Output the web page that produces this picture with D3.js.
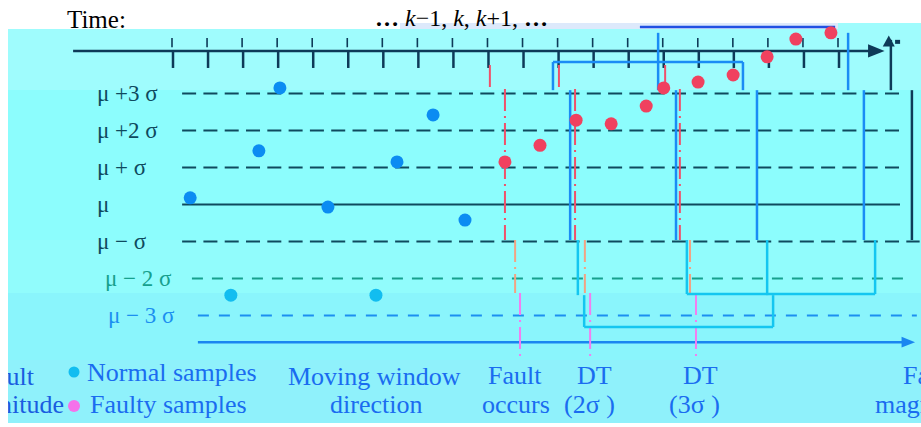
<!DOCTYPE html>
<html>
<head>
<meta charset="utf-8">
<script src="https://cdn.jsdelivr.net/npm/d3@7"></script>
<style>
body { margin: 0; background: #fff; }
svg { display: block; }
text { font-family: "Liberation Serif", "Times New Roman", serif; }
</style>
</head>
<body>
<div id="chart"></div>
<script>
// sample index of each tick on the time axis
const tickTimes = d3.range(0, 20)

// control levels, in units of sigma
const levels = [3, 2, 1, 0, -1, -2, -3]
const levelLabels = ["μ +3 σ", "μ +2 σ", "μ + σ", "μ", "μ − σ", "μ − 2 σ", "μ − 3 σ"]

// normal samples (time, value in sigma)
const normalTimes = [0.49, 1.65, 2.45, 3.05, 4.42, 5.79, 6.39, 7.42, 8.33]
const normalValues = [0.18, -2.45, 1.45, 3.15, -0.07, -2.45, 1.15, 2.42, -0.42]

// faulty samples
const faultyTimes = [9.47, 10.47, 11.5, 12.5, 13.5, 14.0, 14.98, 15.98, 16.95, 17.77, 18.77]
const faultyValues = [1.15, 1.6, 2.28, 2.18, 2.66, 3.15, 3.31, 3.5, 3.99, 4.47, 4.64]

// fault occurs / detection (2 sigma) / detection (3 sigma), one time per picture strip
const eventTimes = [
    [9.04, 9.47, 9.76, 9.90],
    [11.01, 11.47, 11.75, 11.90],
    [14.04, 14.46, 14.75, 14.92]
]

// moving windows: left/right edge in each strip, top and bottom level
const windowEdges = [
    [[10.84, 16.26], [11.33, 16.66], [11.55, 16.95], [11.73, 17.12]],
    [[13.84, 19.26], [14.35, 19.71], [14.66, 20.03]]
]
const windowTopSpan = [[10.84, 16.26], [13.32, 18.89]]
const windowTop = [3.85, 4.80]
const windowBottom = [-3.31, -2.42]

var width = 921
var height = 427

var svg = d3.select("#chart")
    .append("svg")
    .attr("width", width)
    .attr("height", height)

// the picture is cut in horizontal strips (pixel rows) with slightly different shades
var stripRows = [29, 90, 240, 293, 360, 423]
var stripFill = ["#9ffcfd", "#8cfdfd", "#91fcfc", "#8af5fc", "#8ff1fb"]
var defs = svg.append("defs")
defs.append("clipPath").attr("id", "cyan")
    .append("rect").attr("x", 8).attr("y", 23).attr("width", width - 8).attr("height", 400)

for (let i = 0; i < stripFill.length; i++) {
    svg.append("rect")
        .attr("x", 8).attr("y", stripRows[i])
        .attr("width", width - 8).attr("height", stripRows[i + 1] - stripRows[i])
        .attr("fill", stripFill[i])
}
svg.append("rect").attr("x", 838).attr("y", 23).attr("width", 83).attr("height", 7).attr("fill", "#9ffcfd")
svg.append("rect").attr("x", 400).attr("y", 23).attr("width", 438).attr("height", 6).attr("fill", "#dde9fb")

var x = d3.scaleLinear().domain([0, 19]).range([173, 839])
var y = d3.scaleLinear().domain([-3, 3]).range([315.5, 93.5])

var g = svg.append("g").attr("clip-path", "url(#cyan)")

function arrowHead(px, py, dir, size, color) {
    // dir: "right" or "up"
    var pts = dir == "right"
        ? [[px, py], [px - size * 1.5, py - size * 0.6], [px - size * 1.5, py + size * 0.6]]
        : [[px, py], [px - size * 0.6, py + size * 1.1], [px + size * 0.6, py + size * 1.1]]
    g.append("path").attr("d", "M" + pts.join("L") + "Z").attr("fill", color)
}

// ---- time axis ----
var navy = "#0e3a58"
g.append("line")
    .attr("x1", x(-2.85)).attr("x2", x(20.1))
    .attr("y1", y(4.15)).attr("y2", y(4.15))
    .attr("stroke", navy).attr("stroke-width", 2.5)
arrowHead(x(20.3), y(4.15), "right", 11, navy)

g.selectAll(".tickBig")
    .data(tickTimes)
    .enter()
    .append("line")
    .attr("x1", d => x(d)).attr("x2", d => x(d))
    .attr("y1", y(4.15)).attr("y2", y(3.69))
    .attr("stroke", navy).attr("stroke-width", 2.5)

g.selectAll(".tickSmall")
    .data(tickTimes)
    .enter()
    .append("line")
    .attr("x1", d => x(d) - 1).attr("x2", d => x(d) - 1)
    .attr("y1", y(4.5)).attr("y2", y(4.25))
    .attr("stroke", navy).attr("stroke-width", 1.6)

// vertical (magnitude) arrow on the right
g.append("line")
    .attr("x1", x(20.48)).attr("x2", x(20.48))
    .attr("y1", y(4.45)).attr("y2", y(3.09))
    .attr("stroke", navy).attr("stroke-width", 2.5)
arrowHead(x(20.42), y(4.57), "up", 10, navy)
g.append("rect").attr("x", x(20.6)).attr("y", y(4.45)).attr("width", 5).attr("height", 4).attr("fill", navy)
g.append("line")
    .attr("x1", x(21.08)).attr("x2", x(21.08))
    .attr("y1", y(3.09)).attr("y2", y(-0.96))
    .attr("stroke", navy).attr("stroke-width", 2.5)

// ---- sigma level lines ----
var levelColor = ["#0f4a5e", "#0f4a5e", "#0f4a5e", "#0f4a5e", "#0f4a5e", "#17a08d", "#1c8ff0"]
var levelStart = [0.26, 0.26, 0.26, 0.26, 0.26, 0.54, 0.71]
var levelEnd = [20.74, 20.74, 20.74, 20.74, 21.3, 21.03, 21.22]
var levelDash = ["14,7.3", "14,7.3", "14,7.3", null, "14,7.3", "11,9", "11,10"]
var labelX = [97, 97, 97, 97, 97, 105, 108]

g.selectAll(".level")
    .data(levels)
    .enter()
    .append("line")
    .attr("x1", (d, i) => x(levelStart[i])).attr("x2", (d, i) => x(levelEnd[i]))
    .attr("y1", d => y(d)).attr("y2", d => y(d))
    .attr("stroke", (d, i) => levelColor[i])
    .attr("stroke-width", 2)
    .attr("stroke-dasharray", (d, i) => levelDash[i])

g.selectAll(".levelLabel")
    .data(levels)
    .enter()
    .append("text")
    .attr("x", (d, i) => labelX[i])
    .attr("y", d => y(d) + 7)
    .attr("fill", (d, i) => levelColor[i])
    .style("font-size", "23px")
    .text((d, i) => levelLabels[i])

// bottom arrow: moving window direction
var blue = "#1a86f0"
g.append("line")
    .attr("x1", x(0.71)).attr("x2", x(20.9))
    .attr("y1", y(-3.72)).attr("y2", y(-3.72))
    .attr("stroke", blue).attr("stroke-width", 2.5)
arrowHead(x(21.17), y(-3.72), "right", 9, blue)

// ---- event lines (dash-dot) ----
var stripLevels = [3.77, 3.12, -0.96, -2.39, -4.2]
var eventColor = ["#f0506a", "#f0506a", "#f2a383", "#f27ef0"]
eventTimes.forEach(function(times) {
    for (let s = 0; s < times.length; s++) {
        g.append("line")
            .attr("x1", x(times[s])).attr("x2", x(times[s]))
            .attr("y1", y(stripLevels[s])).attr("y2", y(stripLevels[s + 1]))
            .attr("stroke", eventColor[s])
            .attr("stroke-width", 2)
            .attr("stroke-dasharray", "22,5,2,5")
    }
})

// ---- moving windows ----
var winStrips = [
    [[3.85, 3.09], [3.09, -0.96], [-0.96, -2.45], [-2.45, -3.31]],
    [[4.64, 3.09], [3.09, -0.96], [-0.96, -2.42]]
]
var winColor = ["#1a8cf5", "#1a8cf5", "#14c6f0", "#14c6f0"]
windowEdges.forEach(function(edges, w) {
    edges.forEach(function(pair, s) {
        pair.forEach(function(t) {
            g.append("line")
                .attr("x1", x(t)).attr("x2", x(t))
                .attr("y1", y(winStrips[w][s][0])).attr("y2", y(winStrips[w][s][1]))
                .attr("stroke", winColor[s]).attr("stroke-width", 2.5)
        })
    })
    var last = edges[edges.length - 1]
    g.append("line")
        .attr("x1", x(last[0])).attr("x2", x(last[1]))
        .attr("y1", y(windowBottom[w])).attr("y2", y(windowBottom[w]))
        .attr("stroke", winColor[3]).attr("stroke-width", 2.5)
    g.append("line")
        .attr("x1", x(windowTopSpan[w][0])).attr("x2", x(windowTopSpan[w][1]))
        .attr("y1", y(windowTop[w])).attr("y2", y(windowTop[w]))
        .attr("stroke", w == 0 ? "#1a8cf5" : "#2150e2").attr("stroke-width", 2.5)
})

// ---- samples ----
g.selectAll(".normal")
    .data(normalTimes)
    .enter()
    .append("circle")
    .attr("cx", d => x(d))
    .attr("cy", (d, i) => y(normalValues[i]))
    .attr("r", 6.5)
    .attr("fill", (d, i) => normalValues[i] < -2 ? "#12bdf0" : "#0b8cf2")

g.selectAll(".faulty")
    .data(faultyTimes)
    .enter()
    .append("circle")
    .attr("cx", d => x(d))
    .attr("cy", (d, i) => y(faultyValues[i]))
    .attr("r", 6.5)
    .attr("fill", "#f0415f")

// ---- bottom texts ----
var textBlue = "#1a6cf0"
function label(txt, px, py, color) {
    g.append("text")
        .attr("x", px).attr("y", py)
        .attr("fill", color || textBlue)
        .style("font-size", "26px")
        .text(txt)
}
g.append("text").attr("x", 34).attr("y", 385).attr("text-anchor", "end")
    .attr("fill", "#1a5ce0").style("font-size", "26px").text("Fault")
g.append("text").attr("x", 64).attr("y", 413).attr("text-anchor", "end")
    .attr("fill", "#1a5ce0").style("font-size", "26px").text("magnitude")

g.append("circle").attr("cx", 74).attr("cy", 372).attr("r", 5.5).attr("fill", "#12bdf0")
g.append("circle").attr("cx", 74).attr("cy", 406).attr("r", 6).attr("fill", "#f472ea")
label("Normal samples", 87, 381)
label("Faulty samples", 90, 413)
label("Moving window", 288, 385)
label("direction", 330, 413)
label("Fault", 488, 384)
label("occurs", 482, 413)
label("DT", 577, 384)
label("(2σ )", 564, 413)
label("DT", 683, 384)
label("(3σ )", 669, 413)
label("Fault", 903, 384)
label("magnitude", 875, 413)

// ---- header ----
svg.append("text").attr("x", 67).attr("y", 28)
    .attr("fill", "#000").style("font-size", "25px").text("Time:")
var head = svg.append("text").attr("x", 375).attr("y", 26)
    .attr("fill", "#000").style("font-size", "24px")
head.append("tspan").style("font-weight", "bold").text("…")
head.append("tspan").attr("dx", 6).style("font-style", "italic").text("k")
head.append("tspan").text("−1, ")
head.append("tspan").style("font-style", "italic").text("k")
head.append("tspan").text(", ")
head.append("tspan").style("font-style", "italic").text("k")
head.append("tspan").text("+1, ")
head.append("tspan").style("font-weight", "bold").text("…")
</script>
</body>
</html>
